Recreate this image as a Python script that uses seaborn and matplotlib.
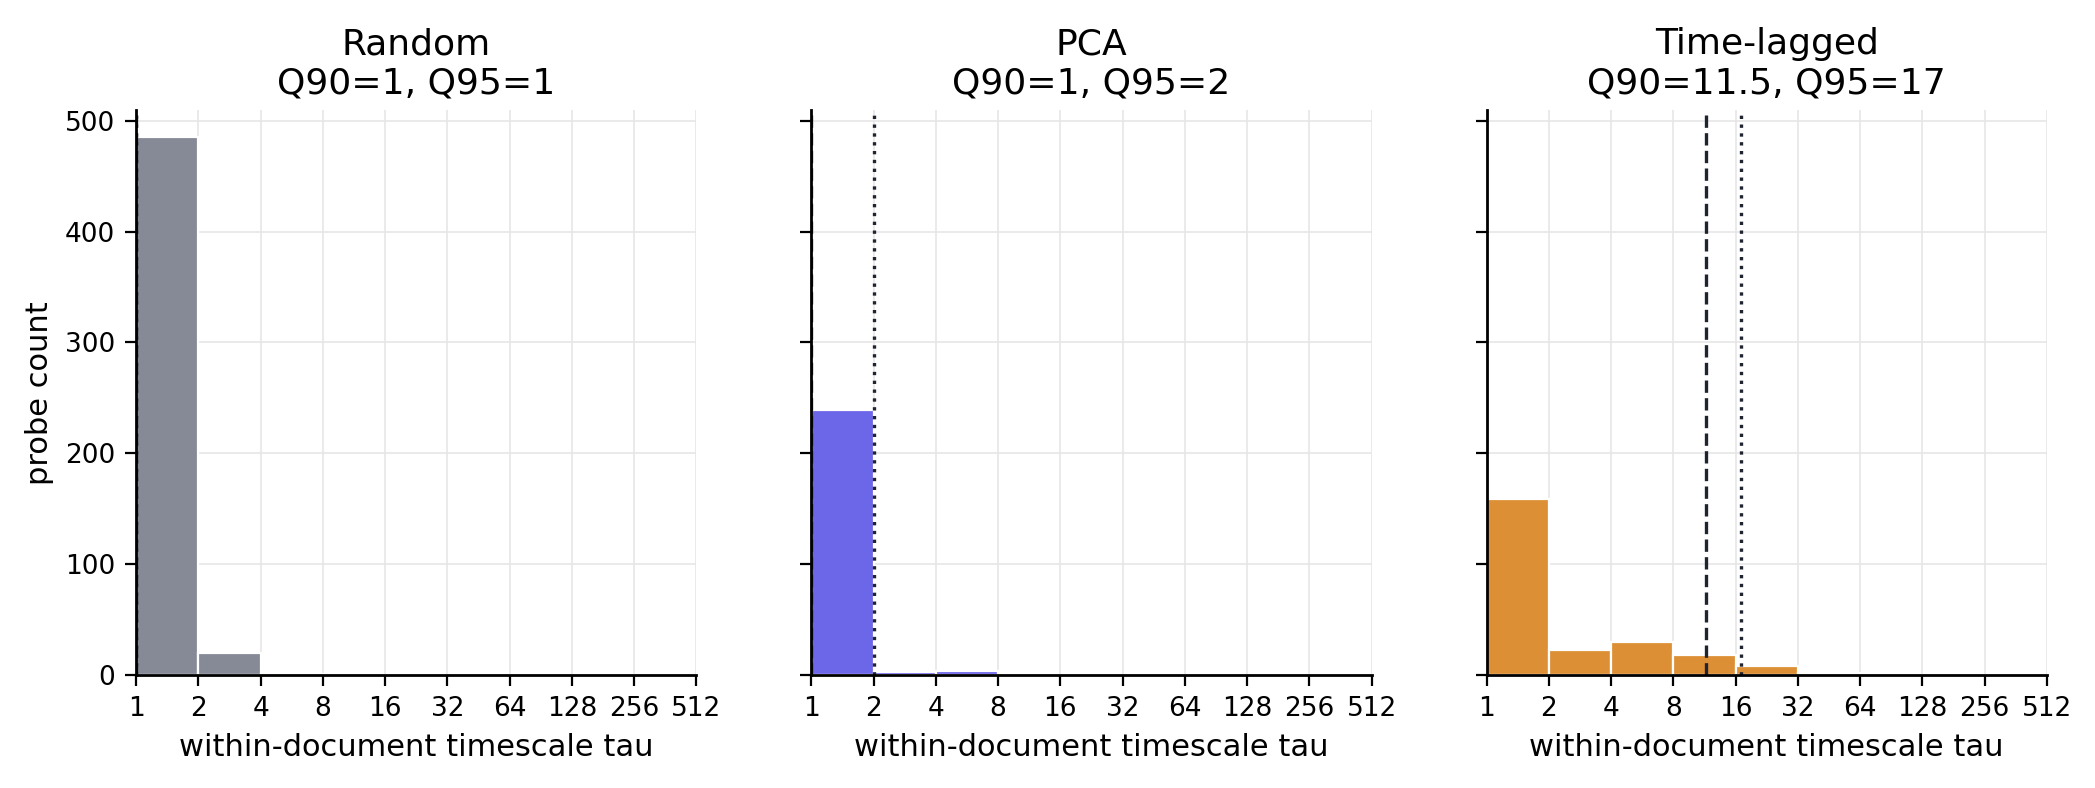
import numpy as np
import pandas as pd
import matplotlib
matplotlib.use("Agg")
import matplotlib.pyplot as plt
import seaborn as sns
from matplotlib.ticker import FixedLocator, FixedFormatter, NullLocator

# ---- data ----
bin_lower = [1, 2, 4, 8, 16, 32, 64, 128, 256]
random_counts = [485, 20, 1, 0, 0, 0, 0, 0, 0]
pca_counts = [239, 3, 4, 0, 0, 0, 0, 0, 0]
lagged_counts = [159, 23, 30, 18, 8, 2, 0, 0, 0]
methods = ["Random", "PCA", "Time-lagged"]
q90 = [1, 1, 11.5]
q95 = [1, 2, 17]
q90_labels = ["1", "1", "11.5"]
q95_labels = ["1", "2", "17"]
colors = ["#868a96", "#6c66e8", "#dd8f35"]
xticks = [1, 2, 4, 8, 16, 32, 64, 128, 256, 512]
xticklabels = ["1", "2", "4", "8", "16", "32", "64", "128", "256", "512"]

sns.set_style("white")
plt.rcParams["font.family"] = ["DejaVu Sans"]
plt.rcParams.update({"text.color": "black", "axes.labelcolor": "black",
                     "xtick.color": "black", "ytick.color": "black"})

fig, axes = plt.subplots(1, 3, figsize=(10.475, 3.94), dpi=200, sharey=True)
fig.subplots_adjust(left=0.065, right=0.977, bottom=0.143, top=0.86, wspace=0.205)

all_counts = [random_counts, pca_counts, lagged_counts]
for i, ax in enumerate(axes):
    df = pd.DataFrame({"tau": np.array(bin_lower, dtype=float) * np.sqrt(2),
                       "count": all_counts[i]})
    df = df[df["count"] > 0]
    ax.grid(True, color="#e6e6e6", linewidth=0.6)
    ax.set_axisbelow(True)
    sns.histplot(data=df, x="tau", weights="count", log_scale=2,
                 binwidth=1, binrange=(0, 9), color=colors[i], alpha=1.0,
                 edgecolor="white", linewidth=0.8, ax=ax)
    ax.axvline(q90[i], color="#1f2430", linestyle="--", linewidth=1.2)
    ax.axvline(q95[i], color="#1f2430", linestyle=":", linewidth=1.2)
    ax.set_xlim(1, 512)
    ax.xaxis.set_major_locator(FixedLocator(xticks))
    ax.xaxis.set_major_formatter(FixedFormatter(xticklabels))
    ax.xaxis.set_minor_locator(NullLocator())
    ax.set_title(f"{methods[i]}\nQ90={q90_labels[i]}, Q95={q95_labels[i]}", fontsize=13)
    ax.set_xlabel("within-document timescale tau", fontsize=11)
    ax.set_ylabel("probe count" if i == 0 else "", fontsize=11)
    ax.tick_params(axis="both", labelsize=9.5, length=4, width=0.8, direction="out",
                   bottom=True, left=True)
    for s in ["top", "right"]:
        ax.spines[s].set_visible(False)
    for s in ["left", "bottom"]:
        ax.spines[s].set_color("black")
        ax.spines[s].set_linewidth(1.0)

axes[0].set_yticks([0, 100, 200, 300, 400, 500])
fig.savefig("out.png", dpi=200)
